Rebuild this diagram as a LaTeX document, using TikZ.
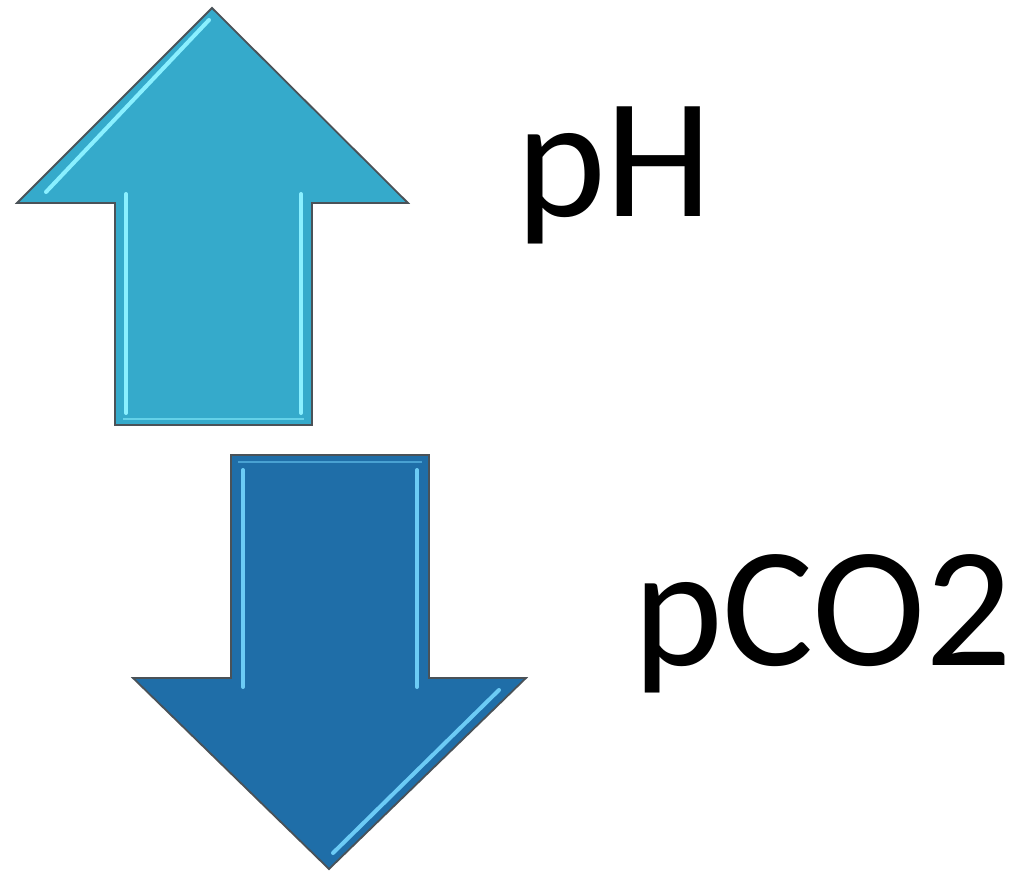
\documentclass[tikz,border=0pt]{standalone}
\usepackage{fontspec}
\setmainfont{Carlito}
\definecolor{upfill}{HTML}{35AACB}
\definecolor{downfill}{HTML}{1F6EA8}
\definecolor{edge}{HTML}{4A5258}
\definecolor{shine}{HTML}{8AF0FF}
\definecolor{shinedown}{HTML}{6CCBF5}
\begin{document}
\begin{tikzpicture}[x=1pt,y=-1pt,
  arrowshape/.style={draw=edge,line width=1.8pt,line join=miter},
  glint/.style={line width=4pt,line cap=round},
  label/.style={inner sep=0pt,anchor=base west,font=\fontsize{171}{171}\selectfont}]
\useasboundingbox (0,0) rectangle (1017,874);
% up arrow
\draw[arrowshape,fill=upfill] (212,8) -- (408,203) -- (312,203) -- (312,425) -- (115,425) -- (115,203) -- (17,203) -- cycle;
\draw[glint,shine] (209,20) -- (46,192);
\draw[glint,shine] (126,194) -- (126,413);
\draw[glint,shine] (301,194) -- (301,413);
\draw[line width=2pt,shine!55!upfill] (123,419) -- (304,419);
% down arrow
\draw[arrowshape,fill=downfill] (231,455) -- (429,455) -- (429,678) -- (526,678) -- (329,869) -- (133,678) -- (231,678) -- cycle;
\draw[glint,shinedown] (243,470) -- (243,687);
\draw[glint,shinedown] (417,470) -- (417,687);
\draw[glint,shinedown] (499,690) -- (333,853);
\draw[line width=2pt,shinedown!55!downfill] (238,462) -- (422,462);
% labels
\node[label] (ph) at (516,217) {pH};
\node[label] (pco) at (633,665) {pCO2};
\end{tikzpicture}
\end{document}
